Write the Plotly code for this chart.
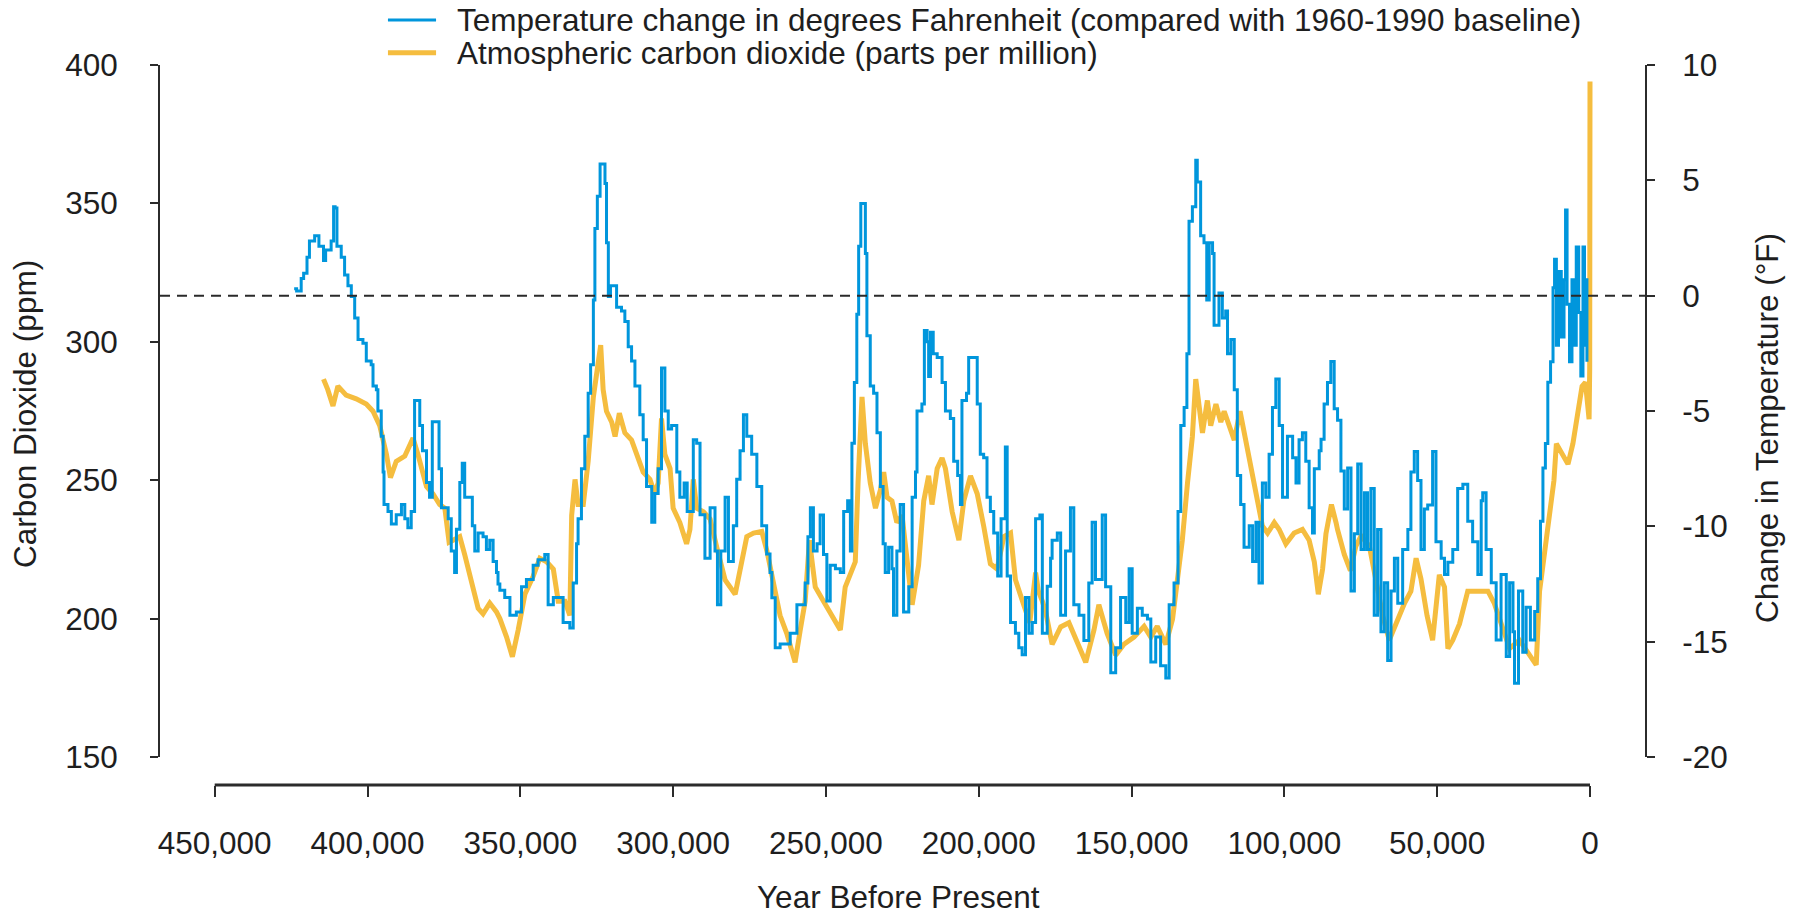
import plotly.graph_objects as go

# ---------------- data ----------------
temp_years = [
    424000, 423200, 421700, 420900, 419800, 419000, 417300, 415900, 414400, 413700,
    411900, 411100, 410600, 410000, 408600, 407500, 406400, 405300, 404200, 403100,
    401500, 400400, 398800, 398200, 397100, 396600, 395500, 394900, 394600, 393300,
    392200, 390600, 388900, 387800, 386800, 385700, 384600, 383800, 382900, 382000,
    380700, 379700, 378800, 377500, 376600, 375800, 373600, 372600, 371500, 370900,
    369800, 369000, 368200, 366800, 365700, 364900, 363800, 362200, 361100, 360000,
    358900, 357800, 357300, 356700, 355100, 353400, 351300, 349600, 348000, 345800,
    344200, 342000, 340900, 339200, 337100, 336000, 333800, 332700, 331600, 331100,
    330000, 328900, 327800, 327000, 326100, 325600, 324800, 323900, 322900, 322300,
    321800, 321200, 320500, 319600, 318500, 316900, 315800, 314700, 313600, 312500,
    310900, 309800, 308700, 307000, 306000, 304900, 303800, 302700, 301600, 300500,
    298800, 297800, 296400, 295400, 293400, 292300, 291200, 289600, 287900, 286300,
    285500, 284400, 283000, 281900, 280300, 279200, 278100, 277000, 275900, 274300,
    272600, 271000, 269400, 268300, 267700, 266600, 265000, 263300, 261700, 259500,
    257900, 256800, 255900, 255100, 254100, 252900, 251900, 250800, 249700, 248600,
    246900, 245300, 244200, 242900, 242000, 241500, 240700, 239900, 239300, 238600,
    237700, 237100, 236600, 235500, 234400, 233300, 232200, 231300, 230600, 229500,
    228400, 227900, 226800, 225700, 224600, 222900, 221800, 220700, 220200, 218600,
    217800, 216900, 216400, 215800, 214900, 213600, 212000, 210900, 209300, 208200,
    206900, 206000, 205500, 204000, 203300, 201600, 200500, 199500, 198400, 197300,
    196200, 195100, 193800, 192700, 191300, 190700, 189600, 188000, 186900, 185800,
    184700, 183600, 182500, 181400, 180000, 179200, 177600, 176500, 176000, 174300,
    173200, 171600, 170000, 168900, 167200, 165600, 164000, 162900, 161800, 159600,
    158500, 156800, 155200, 153600, 151900, 150800, 149800, 148100, 146500, 144800,
    143700, 142100, 140500, 138800, 137700, 136100, 134800, 133900, 132800, 131900,
    131200, 130100, 129000, 128500, 127400, 126300, 125400, 124600, 123500, 123000,
    121400, 120300, 119200, 118600, 117500, 116400, 115400, 114300, 113200, 111500,
    110400, 109300, 108300, 107200, 106100, 105000, 103900, 102800, 101700, 100600,
    99000, 97300, 96200, 95200, 94100, 93000, 91900, 90800, 90200, 88600,
    88000, 87000, 85900, 84800, 83700, 82600, 81500, 80400, 79300, 78200,
    77100, 76000, 74900, 73800, 72800, 71700, 70600, 69500, 68400, 67300,
    66200, 65100, 64000, 62900, 61300, 59600, 58600, 57500, 56400, 55300,
    54200, 53100, 51500, 50400, 48700, 47600, 46500, 44900, 43300, 41600,
    40000, 38400, 36700, 35600, 35100, 34000, 32300, 30700, 29100, 27400,
    26300, 25200, 24700, 23400, 22000, 20900, 19500, 18100, 17100, 16200,
    15400, 14600, 13800, 12900, 12100, 11600, 11000, 10300, 9400, 8500,
    8000, 7500, 6700, 5900, 5000, 4500, 3700, 3000, 2300, 1800,
    1200, 1000,
]
temp_change_f = [
    0.3, 0.2, 0.74, 0.97, 1.67, 2.37, 2.6, 2.14, 1.52, 1.98,
    2.37, 3.85, 3.8, 2.14, 1.67, 0.9, 0.43, -0.04, -0.97, -1.9,
    -2.06, -2.83, -2.99, -3.92, -4.08, -5.0, -6.1, -7.65, -9.05, -9.36,
    -9.9, -9.5, -9.05, -9.67, -10.06, -9.36, -4.54, -4.54, -5.63, -6.72,
    -8.1, -8.74, -5.47, -5.47, -7.5, -9.2, -9.67, -11.07, -12.0, -10.13,
    -8.1, -7.26, -8.74, -8.74, -9.98, -11.07, -10.29, -10.45, -11.0, -10.6,
    -11.53, -12.0, -12.5, -12.77, -13.09, -13.86, -13.71, -12.62, -12.31, -11.69,
    -11.45, -11.22, -13.4, -13.09, -13.09, -14.17, -14.41, -12.46, -10.76, -9.67,
    -7.5, -6.1, -4.23, -2.99, -0.19, 2.91, 4.31, 5.71, 5.71, 4.86,
    2.29, -0.04, 0.43, 0.43, -0.5, -0.66, -1.12, -2.21, -2.83, -3.92,
    -5.16, -6.25, -8.27, -9.82, -8.58, -7.5, -3.14, -5.0, -5.78, -5.63,
    -7.65, -8.74, -8.12, -9.36, -6.25, -6.4, -9.5, -11.38, -9.2, -11.07,
    -13.4, -11.07, -8.74, -11.53, -9.98, -7.96, -6.72, -5.16, -6.1, -6.87,
    -8.27, -9.98, -11.2, -12.0, -13.1, -15.26, -15.1, -15.1, -14.64, -13.4,
    -13.4, -12.46, -10.45, -9.2, -11.07, -10.76, -9.51, -11.22, -13.24, -11.69,
    -11.84, -12.0, -9.36, -8.89, -11.07, -6.4, -3.76, -0.81, 2.14, 4.0,
    4.0, 1.83, -1.74, -3.92, -4.23, -5.94, -8.27, -10.76, -12.0, -10.91,
    -11.84, -13.86, -11.07, -9.05, -13.71, -12.62, -8.74, -7.65, -5.0, -4.7,
    -1.51, -2.0, -3.5, -1.59, -2.52, -2.68, -3.76, -5.0, -5.32, -7.18,
    -7.8, -9.05, -4.54, -4.23, -2.68, -2.68, -4.7, -6.87, -7.03, -8.74,
    -9.36, -10.29, -12.15, -9.67, -6.56, -12.15, -14.17, -14.64, -15.26, -15.57,
    -13.09, -14.64, -14.17, -9.67, -9.51, -14.64, -12.6, -11.38, -10.6, -10.29,
    -13.86, -11.07, -9.2, -13.4, -13.86, -14.95, -12.46, -9.82, -12.31, -9.51,
    -12.62, -16.35, -15.26, -13.09, -14.17, -11.84, -14.64, -13.55, -13.86, -14.02,
    -15.88, -14.8, -16.04, -16.58, -13.4, -12.46, -9.36, -5.63, -4.85, -2.52,
    3.23, 3.85, 5.87, 4.93, 2.6, 2.29, -0.19, 2.29, 1.83, -1.28,
    0.12, -0.97, -0.66, -2.52, -1.9, -4.08, -7.8, -9.05, -10.91, -9.98,
    -11.53, -9.82, -12.46, -8.12, -8.74, -6.87, -4.85, -3.61, -5.63, -8.74,
    -6.1, -7.03, -8.12, -6.25, -5.94, -7.18, -9.2, -10.29, -7.5, -6.72,
    -6.23, -4.7, -3.76, -2.85, -4.9, -5.4, -7.6, -9.25, -7.47, -12.8,
    -10.32, -7.3, -11.0, -8.54, -11.0, -8.36, -13.86, -10.14, -14.57, -12.45,
    -15.82, -12.8, -11.38, -13.33, -11.0, -10.14, -7.65, -6.76, -8.01, -11.0,
    -9.25, -9.07, -6.76, -10.67, -11.38, -12.09, -11.56, -11.0, -8.36, -8.18,
    -9.78, -10.67, -12.09, -8.89, -8.54, -11.0, -12.45, -14.93, -12.09, -15.64,
    -12.45, -14.57, -16.8, -12.8, -15.46, -13.51, -14.93, -13.69, -12.27, -9.78,
    -7.47, -6.41, -3.75, -2.86, 0.34, 1.58, -2.15, 1.05, -1.79, 0.69,
    3.71, -0.37, -2.86, 0.69, -2.15, 2.11, -0.73, -3.48, 2.11, -2.15,
    0.69, -2.86,
]

co2_years = [
    414400, 413000, 411300, 409700, 407000, 403700, 400400, 398200, 396000, 393800,
    392500, 390600, 387800, 386200, 385100, 383500, 380700, 378600, 376400, 374700,
    373300, 372000, 369800, 368200, 366000, 363800, 362200, 360000, 357800, 356700,
    354500, 352600, 350700, 348500, 345800, 343600, 341400, 339200, 337600, 335400,
    333800, 333200, 332100, 331100, 329400, 327800, 326100, 325100, 323700, 322900,
    321800, 320100, 319000, 317600, 315800, 313600, 312000, 309800, 307600, 306000,
    304900, 303800, 302700, 301000, 300000, 297800, 295600, 294500, 293400, 292300,
    290100, 287900, 285700, 283000, 279700, 278100, 275900, 273700, 271000, 269300,
    267200, 265000, 262800, 260100, 258400, 256800, 255400, 253500, 250800, 248100,
    245300, 243700, 242000, 240400, 239500, 238200, 237100, 235500, 233800, 232200,
    231100, 230000, 228400, 226800, 225100, 223500, 221800, 219700, 218000, 216400,
    215300, 213600, 212000, 210900, 208700, 206500, 204900, 202700, 200500, 198400,
    196200, 194000, 191800, 189600, 188000, 185300, 183300, 181400, 180500, 179200,
    178100, 176000, 173200, 170500, 167800, 165000, 162300, 160700, 158000, 155200,
    152500, 149200, 145900, 143700, 141600, 138800, 136600, 135000, 133400, 131700,
    130100, 129000, 127900, 126800, 125200, 124100, 122400, 120800, 119700, 118100,
    116400, 114500, 113200, 111500, 109900, 108300, 107200, 105500, 103300, 101700,
    99500, 96800, 94100, 91900, 90200, 88900, 87500, 86400, 84600, 83100,
    82600, 80400, 78400, 76600, 74900, 72200, 70000, 67800, 65700, 63500,
    60700, 58600, 56900, 55300, 53300, 51500, 50400, 49300, 47600, 46500,
    44900, 42700, 40000, 36700, 33400, 31300, 28600, 26300, 23100, 20300,
    17600, 16500, 14900, 13200, 11800, 11000, 9400, 7200, 5600, 3900,
    2600, 1500, 700, 300, 100, 0,
]
co2_ppm = [
    286.5, 282.7, 276.8, 284.0, 280.7, 279.4, 277.5, 274.9, 269.7, 259.3,
    250.9, 256.8, 258.7, 262.0, 265.2, 259.3, 247.7, 245.1, 241.2, 239.9,
    227.6, 228.3, 229.6, 223.1, 212.7, 203.7, 201.7, 205.6, 202.4, 200.0,
    193.3, 186.2, 195.9, 208.8, 215.3, 221.8, 220.5, 217.9, 206.3, 206.3,
    201.1, 237.3, 250.3, 241.2, 241.2, 256.8, 280.1, 287.8, 298.8, 282.7,
    274.9, 271.0, 265.8, 274.2, 267.1, 264.5, 259.3, 252.9, 250.3, 245.1,
    249.0, 272.3, 259.3, 254.2, 239.9, 234.7, 227.0, 232.2, 250.3, 239.9,
    238.6, 236.0, 225.7, 214.0, 208.8, 217.9, 229.6, 230.9, 231.5, 224.4,
    212.0, 201.1, 194.6, 184.2, 195.9, 206.3, 228.3, 211.4, 206.3, 201.1,
    195.9, 211.4, 216.6, 220.5, 249.0, 280.1, 263.2, 249.0, 239.9, 246.4,
    252.9, 243.8, 242.5, 234.7, 237.3, 221.8, 205.0, 219.2, 242.5, 251.6,
    241.2, 254.2, 258.0, 254.2, 238.6, 228.3, 242.5, 251.6, 245.1, 233.5,
    219.8, 217.9, 229.6, 230.9, 214.0, 205.0, 198.5, 216.6, 210.0, 206.3,
    202.4, 190.7, 197.0, 198.5, 192.0, 184.2, 195.9, 205.0, 194.6, 186.8,
    190.7, 193.3, 197.2, 193.3, 197.2, 190.7, 199.8, 212.7, 228.3, 249.0,
    265.8, 286.5, 277.5, 267.1, 278.8, 269.7, 277.5, 271.0, 274.9, 269.7,
    264.5, 274.9, 267.1, 259.3, 249.0, 238.6, 233.5, 230.9, 234.7, 232.2,
    227.0, 230.9, 232.2, 228.3, 220.5, 208.8, 217.9, 230.6, 241.2, 234.7,
    232.1, 223.2, 217.3, 226.2, 229.9, 226.2, 212.9, 201.0, 192.2, 198.1,
    205.5, 209.9, 221.8, 214.3, 201.0, 192.2, 202.5, 215.8, 211.4, 189.2,
    192.2, 198.1, 209.9, 209.9, 209.9, 205.5, 196.6, 189.2, 192.2, 187.7,
    183.3, 209.9, 224.7, 238.0, 249.9, 263.2, 260.2, 255.8, 263.2, 275.0,
    283.9, 285.4, 278.0, 272.0, 290.0, 394.0,
]

x_tick_values = [450000, 400000, 350000, 300000, 250000, 200000, 150000, 100000, 50000, 0]
x_tick_labels = ["450,000", "400,000", "350,000", "300,000", "250,000",
                 "200,000", "150,000", "100,000", "50,000", "0"]
co2_tick_values = [150, 200, 250, 300, 350, 400]
co2_tick_labels = ["150", "200", "250", "300", "350", "400"]
temp_tick_values = [-20, -15, -10, -5, 0, 5, 10]
temp_tick_labels = ["-20", "-15", "-10", "-5", "0", "5", "10"]

temp_name = "Temperature change in degrees Fahrenheit (compared with 1960-1990 baseline)"
co2_name = "Atmospheric carbon dioxide (parts per million)"

# ---------------- styling ----------------
BLUE = "#0096dc"
ORANGE = "#f5bd3f"
INK = "#1e1e1e"
AXIS = "#2b2b2b"
FONT = "Liberation Sans, Arial, sans-serif"
FS = 31.5

fig = go.Figure()
fig.add_trace(go.Scatter(x=temp_years, y=temp_change_f, name=temp_name, mode="lines",
                         line=dict(color=BLUE, width=3, shape="hv"), yaxis="y2",
                         showlegend=False))
fig.add_trace(go.Scatter(x=co2_years, y=co2_ppm, name=co2_name, mode="lines",
                         line=dict(color=ORANGE, width=5), yaxis="y", showlegend=False))

x_range = [467898, -17996]
y_dom = [0.0389, 1.0]

common_tick = dict(tickfont=dict(family=FONT, size=FS, color=INK), showgrid=False,
                   zeroline=False, tickcolor=AXIS, tickwidth=2)

fig.update_layout(
    width=1796, height=915,
    margin=dict(l=160, r=151, t=65, b=130, pad=0),
    paper_bgcolor="white", plot_bgcolor="white",
    font=dict(family=FONT, size=FS, color=INK),
    showlegend=False,
    xaxis=dict(range=x_range, anchor="free", position=0, showline=False,
               tickmode="array", tickvals=x_tick_values, ticktext=x_tick_labels,
               ticks="outside", ticklen=11, ticklabelstandoff=19, **common_tick),
    xaxis2=dict(range=x_range, anchor="free", position=0, overlaying="x", showline=False,
                tickmode="array", tickvals=x_tick_values, showticklabels=False,
                ticks="inside", ticklen=6, **common_tick),
    yaxis=dict(range=[150, 400], domain=y_dom, showline=True, linecolor=AXIS, linewidth=2,
               tickmode="array", tickvals=co2_tick_values, ticktext=co2_tick_labels,
               ticks="outside", ticklen=8, ticklabelstandoff=26, **common_tick),
    yaxis2=dict(range=[-20, 10], overlaying="y", side="right", anchor="x", showline=True,
                linecolor=AXIS, linewidth=2, tickmode="array", tickvals=temp_tick_values,
                ticktext=temp_tick_labels, ticks="outside", ticklen=8,
                ticklabelstandoff=21, **common_tick),
    yaxis3=dict(range=[150, 400], overlaying="y", side="left", anchor="x", showline=False,
                tickmode="array", tickvals=co2_tick_values, ticks="inside", ticklen=8,
                showticklabels=False, **common_tick),
    yaxis4=dict(range=[-20, 10], overlaying="y", side="right", anchor="x", showline=False,
                tickmode="array", tickvals=temp_tick_values, ticks="inside", ticklen=8,
                showticklabels=False, **common_tick),
)

# x-axis line (only between first and last tick) and dashed zero line
fig.add_shape(type="line", xref="x", yref="paper", x0=x_tick_values[0], x1=x_tick_values[-1],
              y0=0, y1=0, line=dict(color=AXIS, width=3))
fig.add_shape(type="line", xref="paper", yref="y2", x0=0, x1=1, y0=0, y1=0,
              line=dict(color="#2a2a2a", width=2, dash="10px,7px"))

# legend (drawn manually)
for ypos, color, w, label in [(1.0625, BLUE, 3, temp_name), (1.0171, ORANGE, 5, co2_name)]:
    fig.add_shape(type="line", xref="paper", yref="paper", x0=0.1535, x1=0.1859,
                  y0=ypos, y1=ypos, line=dict(color=color, width=w))
    fig.add_annotation(x=0.1987, y=ypos, xref="paper", yref="paper", text=label,
                       showarrow=False, xanchor="left", yanchor="middle",
                       font=dict(family=FONT, size=FS, color=INK))

# axis titles
fig.add_annotation(x=-0.0909, y=0.5153, xref="paper", yref="paper", text="Carbon Dioxide (ppm)",
                   textangle=-90, showarrow=False, xanchor="center", yanchor="middle",
                   font=dict(family=FONT, size=FS, color=INK))
fig.add_annotation(x=1.0822, y=0.4958, xref="paper", yref="paper", text="Change in Temperature (°F)",
                   textangle=-90, showarrow=False, xanchor="center", yanchor="middle",
                   font=dict(family=FONT, size=FS, color=INK))
fig.add_annotation(x=0.4976, y=-0.1555, xref="paper", yref="paper", text="Year Before Present",
                   showarrow=False, xanchor="center", yanchor="middle",
                   font=dict(family=FONT, size=FS, color=INK))

fig.write_html("out.html", config={"displayModeBar": False},
               post_script="document.body.style.margin='0';")
